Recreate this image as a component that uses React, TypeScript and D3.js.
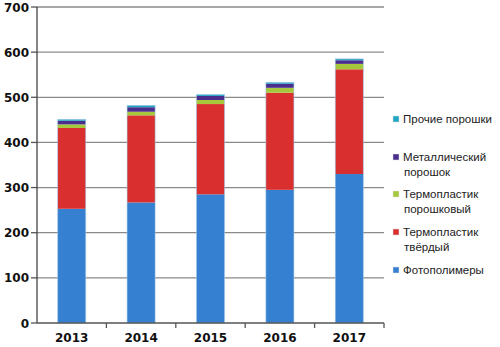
import React from "react";
import * as d3 from "d3";

const years = ["2013", "2014", "2015", "2016", "2017"];
const seriesNames = [
  "Фотополимеры",
  "Термопластик твёрдый",
  "Термопластик порошковый",
  "Металлический порошок",
  "Прочие порошки",
];
const photopolymers = [253, 267, 285, 295, 330];
const thermoSolid = [179, 193, 200, 215, 232];
const thermoPowder = [8, 8, 9, 11, 12];
const metalPowder = [8, 10, 9, 9, 8];
const otherPowder = [3, 4, 3, 3, 3];
const yTicks = [0, 100, 200, 300, 400, 500, 600, 700];
const colors = ["#3580d0", "#da2f2f", "#a6c83c", "#4a2d8c", "#1fa6c2"];
const legendLines = [
  ["Прочие порошки"],
  ["Металлический", "порошок"],
  ["Термопластик", "порошковый"],
  ["Термопластик", "твёрдый"],
  ["Фотополимеры"],
];

export default function App() {
  const W = 500, H = 347;
  const left = 37, right = 384, top = 7, bottom = 323;
  const x = d3.scaleBand<string>().domain(years).range([left, right]).paddingInner(0.6).paddingOuter(0.3);
  const band = d3.scaleBand<string>().domain(years).range([left, right]);
  const y = d3.scaleLinear().domain([0, 700]).range([bottom, top]);
  const table = years.map((yr, i) => ({
    year: yr,
    s0: photopolymers[i],
    s1: thermoSolid[i],
    s2: thermoPowder[i],
    s3: metalPowder[i],
    s4: otherPowder[i],
  }));
  const stack = d3.stack<any>().keys(["s0", "s1", "s2", "s3", "s4"])(table);
  const bw = 28;
  const legendY = [119, 157, 194, 232, 270];
  return (
    <svg width={W} height={H} style={{ position: "absolute", left: 0, top: 0 }}>
      <rect width={W} height={H} fill="#fff" />
      {yTicks.map((t) => (
        <g key={t}>
          {t > 0 && (
            <line x1={left} x2={right} y1={y(t)} y2={y(t)} stroke="#8a8a8a" strokeWidth={1.3} />
          )}
          <line x1={31} x2={left} y1={y(t)} y2={y(t)} stroke="#555" strokeWidth={1.3} />
          <text x={29} y={y(t) + 4.5} textAnchor="end" fontFamily="DejaVu Sans" fontWeight="bold" fontSize={12} fill="#111">
            {t}
          </text>
        </g>
      ))}
      {stack.map((layer, li) =>
        layer.map((d, i) => {
          const cx = (x(years[i]) as number) + x.bandwidth() / 2;
          return (
            <rect
              key={li + "-" + i}
              x={cx - bw / 2}
              y={y(d[1])}
              width={bw}
              height={y(d[0]) - y(d[1])}
              fill={colors[li]}
            />
          );
        })
      )}
      {stack.length > 0 &&
        years.map((yr, i) => {
          const cx = (x(yr) as number) + x.bandwidth() / 2;
          const topV = stack[stack.length - 1][i][1];
          return (
            <rect key={"o" + yr} x={cx - bw / 2} y={y(topV)} width={bw} height={y(0) - y(topV)} fill="none" stroke="#9cc3e6" strokeWidth={0.8} opacity={0.7} />
          );
        })}
      <line x1={left} x2={left} y1={top} y2={bottom} stroke="#444" strokeWidth={1.3} />
      <line x1={left} x2={right} y1={bottom} y2={bottom} stroke="#555" strokeWidth={1.3} />
      {years.map((yr, i) => (
        <line key={"t" + yr} x1={(band(yr) as number) + band.bandwidth()} x2={(band(yr) as number) + band.bandwidth()} y1={bottom} y2={bottom + 5} stroke="#555" strokeWidth={1.3} />
      ))}
      {years.map((yr) => (
        <text key={"l" + yr} x={(x(yr) as number) + x.bandwidth() / 2} y={342} textAnchor="middle" fontFamily="DejaVu Sans" fontWeight="bold" fontSize={12} fill="#111">
          {yr}
        </text>
      ))}
      {legendLines.map((lines, i) => {
        const ci = seriesNames.length - 1 - i;
        return (
          <g key={"lg" + i}>
            <rect x={393} y={legendY[i] - 3} width={6} height={6} fill={colors[ci]} stroke="#ddd" strokeWidth={0.5} />
            {lines.map((ln, j) => (
              <text key={j} x={j === 0 ? 403 : 404} y={legendY[i] + 4 + j * 14.5} fontFamily="Liberation Sans, Arial" fontSize={11.5} fill="#222">
                {ln}
              </text>
            ))}
          </g>
        );
      })}
    </svg>
  );
}
